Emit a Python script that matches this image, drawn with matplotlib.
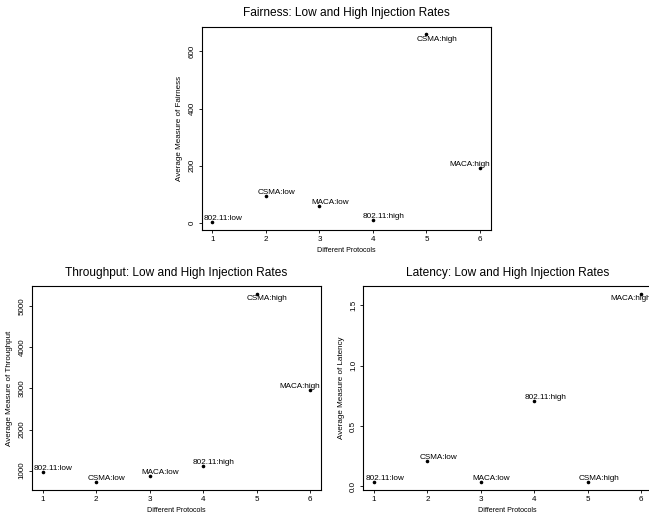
import matplotlib
matplotlib.use("Agg")
import matplotlib.pyplot as plt

protocols = [1, 2, 3, 4, 5, 6]
labels = ["802.11:low", "CSMA:low", "MACA:low", "802.11:high", "CSMA:high", "MACA:high"]

fairness = [2, 93, 61, 9, 660, 194]
throughput = [975, 714, 878, 1105, 5310, 2959]
latency = [0.035, 0.214, 0.039, 0.706, 0.033, 1.597]

plt.rcParams['font.family'] = ['Liberation Sans', 'DejaVu Sans']

fig = plt.figure(figsize=(6.49, 5.16), dpi=100)
ax_f = fig.add_axes([0.3108, 0.5543, 0.4453, 0.394])
ax_t = fig.add_axes([0.0493, 0.0504, 0.4448, 0.3953])
ax_l = fig.add_axes([0.5598, 0.0504, 0.4448, 0.3953])


def panel(ax, y, title, ylabel, yticks, yticklabels):
    ax.scatter(protocols, y, s=2.5, color="black", zorder=3)
    ymax = max(y)
    for x, v, lab in zip(protocols, y, labels):
        dx = -0.2 if x == 6 else 0.2
        dy = -3.5 if v == ymax else 2.5
        ax.annotate(lab, (x + dx, v), xytext=(0, dy), textcoords="offset points",
                    ha="center", va="center", fontsize=5.9, annotation_clip=False)
    pad = 0.04 * (ymax - min(y))
    ax.set_ylim(min(y) - pad, ymax + pad)
    ax.set_xlim(0.8, 6.2)
    ax.set_xticks(protocols)
    ax.set_yticks(yticks)
    ax.set_yticklabels(yticklabels, rotation=90, va="center")
    ax.tick_params(length=2, width=0.6, pad=2.5, labelsize=5.8)
    for s in ax.spines.values():
        s.set_linewidth(0.8)
    ax.set_title(title, fontsize=8.6, pad=7.5)
    ax.set_xlabel("Different Protocols", fontsize=5.1, labelpad=2.5)
    ax.set_ylabel(ylabel, fontsize=5.8, labelpad=4)


panel(ax_f, fairness, "Fairness: Low and High Injection Rates",
      "Average Measure of Fairness", [0, 200, 400, 600], ["0", "200", "400", "600"])
panel(ax_t, throughput, "Throughput: Low and High Injection Rates",
      "Average Measure of Throughput", [1000, 2000, 3000, 4000, 5000],
      ["1000", "2000", "3000", "4000", "5000"])
panel(ax_l, latency, "Latency: Low and High Injection Rates",
      "Average Measure of Latency", [0.0, 0.5, 1.0, 1.5], ["0.0", "0.5", "1.0", "1.5"])

fig.savefig("out.png", dpi=100)
